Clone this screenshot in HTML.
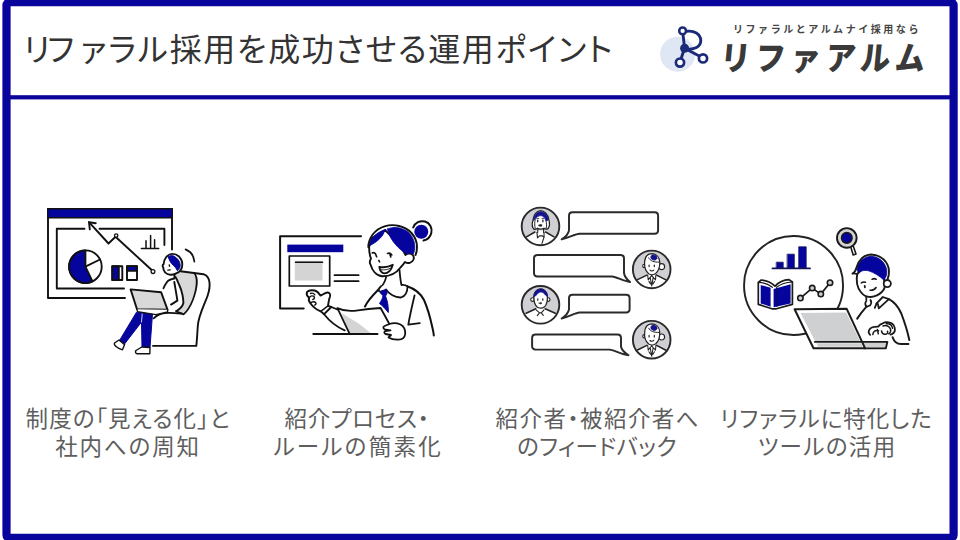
<!DOCTYPE html>
<html lang="ja">
<head>
<meta charset="utf-8">
<title>リファラル採用を成功させる運用ポイント</title>
<style>
html,body{margin:0;padding:0;}
body{width:960px;height:540px;position:relative;overflow:hidden;background:#fff;
 font-family:"Liberation Sans","Noto Sans CJK JP",sans-serif;}
#frame{position:absolute;left:0;top:0;width:960px;height:540px;}
.title{position:absolute;left:23.5px;top:30px;font-size:32px;line-height:40px;color:#333;white-space:nowrap;
 font-feature-settings:"palt";letter-spacing:1.62px;}
.cap{position:absolute;font-size:22.5px;line-height:40px;color:#5e5e5e;
 white-space:nowrap;font-feature-settings:"palt";}
.l1{top:399.6px}.l2{top:428px}
.logo-sub{position:absolute;left:733px;top:23.3px;font-size:10px;font-weight:700;letter-spacing:2.55px;color:#444;white-space:nowrap;line-height:14px;}
.logo-main{position:absolute;left:718.3px;top:35.9px;font-size:33px;font-weight:900;letter-spacing:5.6px;color:#3a3a3a;white-space:nowrap;line-height:46px;transform-origin:0 100%;transform:scaleX(0.91) skewX(-6deg);}
svg{position:absolute;overflow:visible;}
</style>
</head>
<body>
<svg id="frame" viewBox="0 0 960 540" width="960" height="540">
 <rect x="6.5" y="2.2" width="947.1" height="535.7" rx="3" ry="3" fill="none" stroke="#08049c" stroke-width="8.2"/>
 <rect x="6.5" y="95.2" width="947" height="4.2" fill="#08049c"/>
</svg>
<div class="title"><span style="letter-spacing:-2.4px">リ</span><span style="letter-spacing:6.4px">フ</span><span style="letter-spacing:1.9px">ァラル</span>採用を成功させる運用<span style="letter-spacing:1.6px">ポイント</span></div>

<!-- logo -->
<svg id="logo" viewBox="0 0 60 60" width="60" height="60" style="left:655px;top:20px">
 <circle cx="22.6" cy="34.2" r="17.5" fill="#dfe7f4"/>
 <g fill="none" stroke="#1b2a78" stroke-width="2.9" stroke-linecap="round">
  <path d="M27.6 11 L29.6 28 L25 42"/>
  <path d="M31.5 11.3 C39 10.3 45.6 13.5 45.8 20.5 C45.8 27 39 30 31.5 29"/>
  <path d="M30 28.5 L48 38"/>
 </g>
 <circle cx="27.6" cy="10.9" r="3.4" fill="#fff" stroke="#1b2a78" stroke-width="2.5"/>
 <circle cx="25" cy="42.6" r="4.1" fill="#fff" stroke="#1b2a78" stroke-width="2.7"/>
 <circle cx="48" cy="38.4" r="4.1" fill="#fff" stroke="#1b2a78" stroke-width="2.7"/>
 <circle cx="29.6" cy="28.2" r="4.5" fill="#1b2a78"/>
</svg>
<div class="logo-sub">リファラルとアルムナイ採用なら</div>
<div class="logo-main">リファアルム</div>

<div class="cap l1" style="left:25.6px;letter-spacing:1.1px">制度の「見える化」と</div>
<div class="cap l2" style="left:55.2px;letter-spacing:1.88px">社内への周知</div>
<div class="cap l1" style="left:284.5px;letter-spacing:0.65px">紹介プロセス・</div>
<div class="cap l2" style="left:273.7px;letter-spacing:2.25px">ルールの簡素化</div>
<div class="cap l1" style="left:495.5px;letter-spacing:1.44px">紹介者・被紹介者へ</div>
<div class="cap l2" style="left:517px;letter-spacing:0.43px">のフィードバック</div>
<div class="cap l1" style="left:720px;letter-spacing:0.93px">リファラルに特化した</div>
<div class="cap l2" style="left:757.7px;letter-spacing:1.38px">ツールの活用</div>

<svg id="ill1" viewBox="0 0 960 540" width="960" height="540" style="left:0;top:0">
<g fill="none" stroke="#111" stroke-width="1.9" stroke-linecap="round" stroke-linejoin="round">
 <!-- window -->
 <path d="M125 298 H48 V209 M172 209 V249.5"/>
 <rect x="47.7" y="208.7" width="124.6" height="9.1" fill="#05059e" stroke-width="1.4"/>
 <path d="M84.5 228.7 H56.8 V288.5 H124"/>
 <path d="M99.5 228.7 H164.4 V245"/>
 <!-- pie -->
 <circle cx="85.4" cy="266.7" r="16.3" fill="#fff"/>
 <path d="M85.4 266.7 L85.4 250.4 A16.3 16.3 0 1 0 92.5 281.4 Z" fill="#05059e"/>
 <path d="M85.4 266.7 L100 259.5"/>
 <!-- bars -->
 <rect x="112.3" y="266.3" width="10" height="13.7" fill="#fff"/>
 <rect x="112.3" y="266.3" width="6.5" height="13.7" fill="#05059e"/>
 <rect x="127" y="266.3" width="10" height="13.7" fill="#fff"/>
 <rect x="127" y="266.3" width="10" height="4.6" fill="#05059e"/>
 <!-- arrow -->
 <path d="M89 222.2 L108.5 243.5 L115.5 236.8 L152 270.3"/>
 <path d="M95.8 223.2 L89 222.2 L89.8 229.4"/>
 <circle cx="116.2" cy="235.5" r="1.7" fill="#fff" stroke-width="1.3"/>
 <circle cx="153" cy="271.6" r="1.9" fill="#fff" stroke-width="1.3"/>
 <!-- small bar chart -->
 <path d="M141.4 248.5 H158.7 M146 248 V240.7 M150.6 248 V235.6 M154.6 248 V239.7" stroke-width="1.5"/>
 <!-- chair -->
 <path d="M178.5 271 L194.2 273 C197.8 277 197.5 287 193 299.5 C190.5 306 187.5 311 183.6 314.4 L176 311.2 C180 308.5 183 306 183.4 303 C183.3 300 183 297.5 182.5 295 C181.7 291 180.7 288 179.2 285 C178 282 176.5 279 175 276.7 Z" fill="#d9d9d9" stroke="none"/>
 <path d="M194.2 273 C197.8 277 197.5 287 193 299.5 C190.5 306 187.5 311 183.6 314.4 L176 311.2" stroke-width="1.7"/>
 <path d="M180.5 271.2 L203.5 274.2 C210.5 276.5 211 286 207.5 296 C203 308 198.5 316 197.8 326 C197.3 333 197 340 196.3 345.9 H153"/>
 <path d="M153.7 318.3 C157 315 160 313.3 165 313 C171 312.5 176 313 181.5 313.5"/>
 <!-- head -->
 <path d="M163.2 267.3 C162.3 266.3 162.5 264.8 163.6 264.2 C164 259 167 254.3 172 253.9 C177.5 253.8 182 258 182.3 264 C182.4 268.5 180 272 176.2 273.4 C172.5 275.5 167.5 275.3 165.2 272.5 C163.8 271 163.2 269 163.2 267.3 Z" fill="#fff"/>
 <path d="M168.3 256.9 C170 255.3 172.5 255.2 174.5 256.5 C177.5 258.3 179.8 261.3 180.2 264.8 C180.3 267.2 179.3 269.3 177.4 270.8 C176.5 268.5 175 266.7 173.3 265.3 C171 263.3 169.2 260.5 168.3 256.9 Z" fill="#05059e" stroke="#05059e" stroke-width="1"/>
 <path d="M185.6 249.4 C190.5 251.5 194 256 194.4 261.7" stroke-width="1.7"/>
 <path d="M169.3 265 L169.5 266.2" stroke-width="1.4"/><path d="M167.8 270.2 L170.3 269.8" stroke-width="1.2"/>
 <!-- body -->
 <path d="M174.6 274 L174.3 278.5 C170.5 279.3 168.3 280.3 167.2 281.8 C165.6 284 164.3 286 163.5 288.3" />
 <path d="M175.5 277 C177 279.5 178.2 282.5 179.2 285 C180.7 288 181.7 291 182.5 295 C183 297.5 183.3 300 183.4 303 C182.5 306.5 180 309 176.5 311"/>
 <path d="M174.3 282 C175.3 288 176.5 294.5 177.4 300.6 L171 304.6"/>
 <!-- legs -->
 <path d="M142.6 312.5 L136.5 312.2 L119.5 340.5 L124.3 344.3 L141.5 322 L142 347 L150 347.5 L152.5 314 Z" fill="#05059e" stroke="#05059e" stroke-width="1"/>
 <path d="M141.5 322 L142.2 314" stroke="#fff" stroke-width="0.8"/>
 <path d="M119 340 L114.5 343 C113.5 345 117 348 122.5 349.8 L124.6 344.6 Z" fill="#fff" stroke-width="1.4"/>
 <path d="M141.8 347 L136 350.5 C135 352 135.5 353.5 137 353.7 L149.8 353.7 L150 347.5 Z" fill="#fff" stroke-width="1.4"/>
 <!-- laptop -->
 <path d="M130.6 289.4 L161.1 292.2 L167.6 309.8 L137 309.3 Z" fill="#d9d9d9"/>
 <path d="M137 309.3 L137.6 311.6 L156 314.6 L167.6 311.8 L167.6 309.8" fill="#fff" stroke-width="1.3"/>
</g>
</svg>

<svg id="ill2" viewBox="0 0 960 540" width="960" height="540" style="left:0;top:0">
<g fill="none" stroke="#111" stroke-width="2.0" stroke-linecap="round" stroke-linejoin="round">
 <!-- board -->
 <path d="M361 236.2 H280.1 V308.4 H303.7"/>
 <rect x="287.3" y="244.6" width="56" height="7.6" fill="#05059e" stroke="none"/>
 <rect x="289.3" y="256" width="40.4" height="30" fill="#fff" stroke-width="1.7"/>
 <rect x="294.8" y="260.7" width="27.7" height="19.8" fill="#d4d4d4" stroke="none"/>
 <path d="M295.5 262.3 H322.5" stroke-width="1.6"/>
 <path d="M334.5 275.2 H358.6 M334.5 281.2 H358.6" stroke-width="1.8"/>
 <!-- pointing hand + sleeve -->
 <path d="M306.9 292.3 C308 290.5 311 289.8 314.7 290.5 C316.5 291 318.8 293 320.4 295.6 C323 294.5 325.5 292.3 327.6 292.5 C329.8 292.8 330.6 294.5 330 296.5 C329.5 298 329 299.5 328.8 300.9 L328 305.9 L331.3 307 L324.1 314.2 L320.8 311.4 C316 309.5 312.4 306 310.5 303.5 C308.8 301.5 308.3 299.5 309.2 297.8 C307.5 296.5 306.3 294 306.9 292.3 Z" fill="#fff" stroke-width="1.9"/>
 <path d="M309.2 297.8 C310.5 295.5 313 295.3 314.3 297 C314.8 298.2 314 299.3 312.8 299.5 M310.8 303 C312 301.3 314.5 301.3 315.8 302.8 C316.3 303.8 315.8 304.8 314.8 305 M310.5 293.5 C312 292.8 313.8 293.3 314.8 294.8 M328 305.9 L320.8 311.4" stroke-width="1.4"/>
 <path d="M324.1 314.2 C329 320.5 337 327 344.7 330.3 M331.3 307 L337.5 309.5" stroke-width="1.8"/>
 <!-- body -->
 <path d="M378.5 289.5 C372 296 367.5 301 365 306.5"/>
 <path d="M406.5 286 C414 288.5 420.5 293 424 300 C428 309 431 321 432.5 328 C433.2 331 433.7 333.5 433.8 335.5"/>
 <path d="M414.6 295.3 C412.5 304 410 315 408.3 324.7 L414 323.9 L419.8 323.2" stroke-width="1.8"/>
 <!-- neck -->
 <path d="M386.5 274.5 C386 279 384.5 283 381.5 286.5 M399.5 270 C400 276 400.5 281 401.5 285" stroke-width="1.8"/>
 <!-- collar -->
 <path d="M381 286.3 C379.5 287.5 378.7 289 378.5 290.5 L384 294.5 C384.5 292 385 290.5 386 289.5 C389 294 395 297.8 401 297.5 C405 296.5 407.5 292 407.5 286.5 C406 285.3 403.5 284.8 401.5 285" fill="#fff" stroke-width="1.8"/>
 <!-- tie -->
 <path d="M381.5 290.8 L386 289.5 L387 293.5 L385.5 296 C387.5 301 388.5 306 388.3 312.5 C385.5 309 382.5 305.5 379.5 303.5 C381.5 300.5 382.8 298 383 295.5 L380.8 293.5 Z" fill="#05059e" stroke="#05059e" stroke-width="1.0"/>
 <!-- paper -->
 <path d="M337.4 308.1 C343 310.8 350 311.6 358 310.3 C366 309.2 374 308.5 380.6 308 L390.9 326.7 L384 333.6 L349.6 333.6 Z" fill="#fff" stroke="none"/>
 <path d="M341.3 313 L358 323 L371 333.2 L350 333.2 Z" fill="#d4d4d4" stroke="none"/>
 <path d="M349.4 333.4 L337.4 308.1 C343 310.8 350 311.6 358 310.3 C366 309.2 374 308.5 380.6 308 L390.9 326.7" stroke-width="1.8"/>
 <!-- desk -->
 <path d="M313.3 333.9 H377.5"/>
 <!-- right hand -->
 <path d="M389.5 324 C393 322.8 397 323 400.5 324.5 C404 326.5 405.5 330 405.2 334 C404.8 337.5 402 339.5 398.5 339.6 C394.5 339.8 391 339 388.5 337.5 L391 335 L385.5 334 C384 333.3 384 331.8 385.3 331 L390.5 330.3 L384.5 329.3 C383 328.5 383 326.5 384.5 326 Z" fill="#fff" stroke-width="1.8"/>
 <!-- head -->
 <path d="M369.2 246.5 C369 251 369.5 255 371 258.5 C369.5 261 369.5 263 370.5 264.5 C372 270 376 275.5 381.9 276.3 C389 276.5 396 273.5 400.5 267.5 C402.5 265.5 404 263.5 405 262 C408 264 412 263 413.5 259.5 C414.5 256 412.5 253.5 409 253.5 C407.5 253.5 406 254 405.5 255 L400 245 L385 230 L372 238 Z" fill="#fff" stroke-width="1.9"/>
 <!-- bun -->
 <circle cx="421.3" cy="231.8" r="7" fill="#05059e" stroke="none"/>
 <path d="M413.2 227.5 C415 222.5 420 220.3 425 221.5 C430 223 432.5 228 431.3 233 C430.3 237 427.5 239.8 423.5 240.5" stroke-width="2.0"/>
 <!-- hair -->
 <path d="M385.5 229.5 C380 231 374.5 234.5 371.5 239.5 C370.5 241.5 370 243.5 369.8 245.5 C374.5 243.5 379 240 382.5 235.5 C383.5 233.5 384.5 231.5 385.5 229.5 Z" fill="#05059e" stroke="#05059e" stroke-width="0.8"/>
 <path d="M387.5 229 C393 226.5 400 227 406 230.5 C411.5 234 414.5 240 414.8 246.5 C414.8 249.5 414.3 252 413.2 254 C411.5 253 409 253 407 254 C400.5 250.5 394.5 244.5 390.5 237.5 C389 234.5 388 231.8 387.5 229 Z" fill="#05059e" stroke="#05059e" stroke-width="0.8"/>
 <path d="M368.3 247 C368.5 238 374.5 229.5 384.5 226.3 C394 223.5 405 226 411.5 233 C415 237 417 242 417 247 C417 250.5 416.5 253 415.5 255" stroke-width="1.9"/>
 <!-- face -->
 <path d="M372.3 253 C373.5 252.3 374.8 252.8 375.6 254 M375.6 254 L376.6 256.8 M387.5 253.5 C389 252.8 390.8 253.5 391.8 255 M389.6 253.6 L390.8 257" stroke-width="1.6"/>
 <path d="M378.8 260.5 L379.6 261.8" stroke-width="1.6"/>
 <path d="M379.3 266.8 C383.5 267.8 388.5 267 392.8 264.8 C391.5 270 388 273.3 384.5 273.3 C381.5 273 379.8 270.5 379.3 266.8 Z" fill="#fff" stroke-width="1.8"/>
 <path d="M381.5 269.8 C384.5 270.3 388 269.6 390.8 268" stroke-width="0.9"/>
</g>
</svg>

<svg id="ill3" viewBox="0 0 960 540" width="960" height="540" style="left:0;top:0">
<defs>
 <clipPath id="avclip"><circle cx="0" cy="0" r="18.8"/></clipPath>
 <g id="avA" fill="none" stroke="#222" stroke-width="1.3" stroke-linecap="round" stroke-linejoin="round">
  <circle cx="0" cy="0" r="18.8" fill="#cfcfd4" stroke="none"/>
  <g clip-path="url(#avclip)">
   <path d="M-14 10.5 L-5.6 5.6 L-3.5 4 L3.5 4 L5.1 5.6 L13.5 10.5 L20 22 L-20 22 Z" fill="#fff" stroke="none"/>
   <path d="M-14 10.4 L-5.6 5.6 M13.5 10.4 L5.1 5.6" stroke-width="1.5"/>
   <path d="M-3.6 6 L-3 11.5 L-1 9.5 L2 9.5 L3.5 11 L1.5 17 M3.5 6 L3.6 10.8" stroke-width="1.1"/>
  </g>
  <!-- hair bob -->
  <path d="M-2.6 1.5 L-2.8 6 M3 1.5 L3.2 6" stroke-width="1.1"/>
  <path d="M-7.6 -6 C-8.8 -2 -8.6 1 -6.5 2.8 C-4.8 3.2 -3.6 2.6 -3 1.8 C-1.5 3 2 3 3.5 1.8 C4.5 2.8 6 3 7.5 2.2 C9.3 0 9.3 -3.5 8.3 -7 C7.3 -12.5 3.5 -15.8 0 -15.8 C-4.3 -15.5 -7 -11 -7.6 -6 Z" fill="#fff" stroke-width="1.25"/>
  <path d="M-6.8 -6.3 C-6.3 -11.5 -3.3 -14.7 0.3 -14.7 C4.3 -14.4 7.3 -11 7.8 -6.5 L5.5 -5.5 C4.8 -8.3 3 -10.3 0.8 -10.8 C-2 -11 -4.5 -9.2 -6.8 -6.3 Z" fill="#14148c" stroke="#14148c" stroke-width="0.9"/>
  <path d="M5.5 -5.5 C6.3 -3 6.3 0 5.6 2 M-5.3 -7.3 C-6 -4 -6 -1 -5.3 2" stroke-width="1"/>
  <path d="M-2.8 -6.3 L-2.8 -4.6 M2.4 -6.3 L2.4 -4.6" stroke-width="1.3"/>
  <path d="M-3.8 -7.8 L-1.8 -8 M1.5 -8 L3.5 -7.8" stroke-width="0.8"/>
  <path d="M-1.7 -1 C-0.9 -2.2 0.9 -2.2 1.7 -1 C0.9 0.2 -0.9 0.2 -1.7 -1 Z" fill="#222" stroke-width="0.8"/>
  <circle cx="0" cy="0" r="18.8" stroke="#2a2a2a" stroke-width="1.9"/>
 </g>
 <g id="avB" fill="none" stroke="#222" stroke-width="1.3" stroke-linecap="round" stroke-linejoin="round">
  <circle cx="0" cy="0" r="18.8" fill="#cfcfd4" stroke="none"/>
  <g clip-path="url(#avclip)">
   <path d="M-14.2 10.3 L-4.8 5.7 L-3 4 L3.5 4 L4.9 5.7 L14.7 10.8 L20 22 L-20 22 Z" fill="#fff" stroke="none"/>
   <path d="M-14.2 10.3 L-4.8 5.7 M14.7 10.8 L4.9 5.7" stroke-width="1.5"/>
   <path d="M-4 5.5 L-3.5 10.5 L-1.5 8 L0 16.5 L1.5 8 L3.8 10.5 L4.2 5.5 M-1.5 8 L0 6 L1.5 8 M-2.8 12 L-1.2 14.5 M2.8 12 L1.2 14.5" stroke-width="1.05"/>
  </g>
  <!-- ear/bun -->
  <circle cx="9.9" cy="-2.7" r="3" fill="#fff" stroke-width="1.2"/>
  <circle cx="-7.3" cy="-3.4" r="1.7" fill="#fff" stroke-width="1.1"/>
  <!-- head -->
  <path d="M-7 -8 C-7.5 -3 -6 2 -3 4.3 C-1 5.6 2 5.4 4 4 C7 1.5 8.3 -3 8 -8 C7.5 -13 4 -15.8 0 -15.8 C-4 -15.6 -6.6 -12.5 -7 -8 Z" fill="#fff" stroke-width="1.2"/>
  <ellipse cx="2.2" cy="-11.9" rx="3.1" ry="2.5" fill="#14148c" stroke="#14148c" stroke-width="0.8" transform="rotate(20 2.2 -11.9)"/>
  <path d="M-3 -11.5 C-1.5 -8.5 2 -7 7.8 -7.3" stroke-width="1"/>
  <path d="M-2.6 -4.3 L-2.6 -2.8 M2.6 -4.3 L2.6 -2.8" stroke-width="1.2"/>
  <path d="M-1.7 0.8 C-0.6 1.9 1.2 1.9 2.1 0.6" stroke-width="1.1"/>
  <circle cx="0" cy="0" r="18.8" stroke="#2a2a2a" stroke-width="1.9"/>
 </g>
 <g id="avC" fill="none" stroke="#222" stroke-width="1.3" stroke-linecap="round" stroke-linejoin="round">
  <circle cx="0" cy="0" r="18.8" fill="#cfcfd4" stroke="none"/>
  <g clip-path="url(#avclip)">
   <path d="M-14.4 8.5 L-4.7 3.9 L-3 2.5 L3.5 2.5 L4.6 3.9 L14.8 8.5 L20 22 L-20 22 Z" fill="#fff" stroke="none"/>
   <path d="M-14.4 8.5 L-4.7 3.9 M14.8 8.5 L4.6 3.9" stroke-width="1.5"/>
   <path d="M-4.3 5 L-1 8 L-3.2 10.8 M3.5 5 L0.8 8 L2.8 10.5 M-1 8 L0.8 8" stroke-width="1.1"/>
  </g>
  <!-- ears -->
  <circle cx="-8" cy="-5.2" r="1.8" fill="#fff" stroke-width="1.1"/>
  <circle cx="7.7" cy="-5.2" r="1.8" fill="#fff" stroke-width="1.1"/>
  <path d="M-6.5 -9 C-7 -4 -5.5 0.5 -3 2.4 C-1 3.5 2 3.5 3.8 2.3 C6 0.3 7.2 -4 6.8 -9 C6.3 -13.5 3 -16 0 -16 C-3.5 -15.8 -6.2 -13 -6.5 -9 Z" fill="#fff" stroke-width="1.2"/>
  <path d="M-6.7 -8.2 C-6.5 -13 -3.5 -15.8 0.3 -15.8 C4 -15.6 6.8 -12.8 7 -8.3 C5.5 -9 4.3 -10.3 3.3 -11.8 C1.5 -13.3 -1 -13.3 -2.5 -11.5 C-3.5 -10 -5 -8.8 -6.7 -8.2 Z" fill="#14148c" stroke="#14148c" stroke-width="0.9"/>
  <path d="M-3.2 -9.5 C-1.8 -11.5 1.5 -11.7 3.2 -9.8" stroke="#fff" stroke-width="0.8"/>
  <path d="M-2.7 -6 L-2.7 -4.6 M2.3 -6 L2.3 -4.6" stroke-width="1.2"/>
  <path d="M-1.2 -1.6 C-0.6 -2.6 0.8 -2.6 1.4 -1.6 C0.8 -0.7 -0.6 -0.7 -1.2 -1.6 Z" fill="#222" stroke-width="0.7"/>
  <circle cx="0" cy="0" r="18.8" stroke="#2a2a2a" stroke-width="1.9"/>
 </g>
</defs>
<use href="#avA" x="540.5" y="226.4"/>
<use href="#avB" x="651.7" y="269.4"/>
<use href="#avC" x="540.5" y="304.8"/>
<use href="#avB" x="651.7" y="339.7"/>
<g fill="#fff" stroke="#2a2a2a" stroke-width="1.95" stroke-linejoin="round" stroke-linecap="round">
 <path d="M572.5 212.2 H654.6 Q658.1 212.2 658.1 215.7 V230.2 Q658.1 233.7 654.6 233.7 H579.5 C575 234 570 237.5 561.6 239.4 C565.5 237 568.3 234 569 230.5 V215.7 Q569 212.2 572.5 212.2 Z"/>
 <path d="M537.5 254.9 H620.5 Q624 254.9 624 258.4 V273 C624.5 276.5 627 279.5 630 282.1 C623 281 617 277 612 276.5 H537.5 Q534 276.5 534 273 V258.4 Q534 254.9 537.5 254.9 Z"/>
 <path d="M572.5 294.7 H626.1 Q629.6 294.7 629.6 298.2 V309 Q629.6 312.5 626.1 312.5 H579.5 C575 312.8 570 316.5 561.6 318.5 C565.5 316 568.3 313 569 309.5 V298.2 Q569 294.7 572.5 294.7 Z"/>
 <path d="M535.6 334.4 H617.5 Q621 334.4 621 337.9 V346.5 C621.5 350 625 353 628.5 355.3 C621.5 354.5 615 350.3 609.5 349.6 H535.6 Q532.1 349.6 532.1 346.1 V337.9 Q532.1 334.4 535.6 334.4 Z"/>
</g>
</svg>

<svg id="ill4" viewBox="0 0 960 540" width="960" height="540" style="left:0;top:0">
<g fill="none" stroke="#1a1a1a" stroke-width="2.0" stroke-linecap="round" stroke-linejoin="round">
 <!-- big circle -->
 <circle cx="793.55" cy="285.5" r="49.5" fill="#fff" stroke="#222" stroke-width="1.9"/>
 <!-- bar chart -->
 <g fill="#05059e" stroke="#14145a" stroke-width="0.8">
  <rect x="776.6" y="262.2" width="6.6" height="5.8"/>
  <rect x="787.5" y="254.2" width="6.8" height="13.8"/>
  <rect x="799" y="246.8" width="7.2" height="21.2"/>
 </g>
 <path d="M772.5 268.4 H810" stroke="#14145a" stroke-width="1.8"/>
 <!-- book -->
 <path d="M758.3 282.3 L761.3 280 C766 280.3 771.5 282.5 775 286.2 C778.5 282.3 784 279.8 789 279.6 L792.4 282 L792.4 304.4 L776.4 308.8 L772 308.8 L758.3 304.4 Z" fill="#fff" stroke-width="1.7"/>
 <path d="M758.3 282.3 C763.5 282.6 769 284.5 772.3 287.3 M792.4 282 C787 282.3 780.5 284.3 776.5 287.3" stroke-width="1.2"/>
 <path d="M760.7 285 L770.6 287.8 L770.6 306.7 L760.7 303.4 Z" fill="#05059e" stroke="none"/>
 <path d="M773.6 288.9 L790.6 284.3 L790.6 303.4 L773.6 307.2 Z" fill="#05059e" stroke="none"/>
 <path d="M776.8 288.5 V306.5" stroke="#0a0a50" stroke-width="1"/>
 <!-- line chart -->
 <path d="M800.4 298.1 L812.2 288.1 L820.8 294.1 L830 282.7" stroke-width="1.7"/>
 <g fill="#cfcfcf" stroke-width="1.6">
  <circle cx="800.4" cy="298.1" r="2.7"/><circle cx="812.2" cy="288.1" r="2.7"/><circle cx="820.8" cy="294.1" r="2.7"/><circle cx="830" cy="282.7" r="2.7"/>
 </g>
 <!-- magnifier -->
 <path d="M850.3 245.5 L853.2 255 L856 254 L852.8 244.8 Z" fill="#fff" stroke-width="1.6"/>
 <circle cx="846.8" cy="237.9" r="9.8" fill="#d4d4d4" stroke-width="1.9"/>
 <circle cx="846.8" cy="237.9" r="5.3" fill="#05059e" stroke-width="1.5"/>
 <!-- person body -->
 <path d="M866.3 306.8 C862.5 311 859.5 315 857.2 318.6"/>
 <path d="M888.9 299.1 C894.5 302 898.5 307 901.3 313.5 C904.5 322 907.5 331 909.3 340"/>
 <path d="M892.6 337.2 C894 341.5 897 343.8 901 344 L908.4 343.9"/>
 <!-- neck + collar -->
 <path d="M865.5 294.8 C866.5 297.5 866.8 299.5 866.3 301 C865 302.5 865 304.5 866.3 306.8 L870 305.5 C871.5 303.5 871.5 301.5 870.5 300" stroke-width="1.8"/>
 <path d="M876.6 303.3 L882.8 297 L888.9 299.2 L878.8 308.3 L877.8 303.8" stroke-width="1.8"/>
 <path d="M874.8 307.8 L876.6 303.3" stroke-width="1.8"/>
 <!-- head -->
 <path d="M857.2 274 C856 281 857.5 288 860.8 292 C863.5 295.5 867 297.3 870.8 297 C875 296.5 879 294.8 881.8 292 C883.5 290.5 884.3 289 884.6 287.5 L884 278 L870 262 Z" fill="#fff" stroke-width="1.9"/>
 <circle cx="887.3" cy="283.6" r="3.6" fill="#fff" stroke-width="1.8"/>
 <path d="M858.3 272.3 C861.5 270.5 865 270 868.5 270.8 C874 272.5 879.5 276 883.8 280 C886 277.5 887 274.5 886.8 271 C886 263 879.5 256.6 871 256.3 C864.5 256.5 859.5 261 857.2 267.5 C856.8 269.3 857.3 271 858.3 272.3 Z" fill="#05059e" stroke="#05059e" stroke-width="0.8"/>
 <path d="M852.6 273.5 C854.5 272.5 855.8 270.5 856.3 268 C858.5 260 864 254.6 871 254.5 C881 254.8 888.8 262 889 271.5 C889 274.5 888.5 277 887.6 279.2" stroke-width="1.9"/>
 <path d="M852.6 273.5 L857.5 273.8" stroke-width="1.7"/>
 <!-- face -->
 <path d="M861.3 283 C862.5 282 864.2 281.8 865.5 282.3 M872 279.3 C873.3 278.5 875 278.5 876.2 279.3" stroke-width="1.5"/>
 <path d="M864.7 285.8 L864.9 287.3" stroke-width="1.8"/>
 <path d="M870 290.2 C872.5 290.5 874.8 289.5 876 287.5" stroke-width="1.6"/>
 <!-- hand -->
 <path d="M870.2 334.9 C868.6 333.5 868.5 331 869.6 329.3 C871 327.3 874 326.5 878.2 326.6 C879.5 324.8 881 323.8 882.8 323.3 C884.5 322.3 886.5 322 888.5 322.3 C891.5 322.8 893.5 324.3 894.3 326.5 C895.3 329 895 331.5 893.5 333 C892.5 334 891.5 334.5 890.5 334.5" fill="#fff" stroke-width="1.8"/>
 <path d="M872.8 334.6 C873 331.5 875.5 329.8 878.5 330.8 M877.3 329.5 L878.3 333.8 M881.5 331 C882 333.5 884 334.8 886 334.2 C887.5 333.8 888 332.5 887.5 331.2 M883 326 C886 324.8 889.5 326 890.5 329 C891 331 890.3 332.8 888.8 333.8 M886.3 323.8 C889.5 323.5 892 325.5 892.6 328.3" stroke-width="1.5"/>
 <!-- laptop -->
 <path d="M860 341.8 L887.4 341.8 L885.9 348.3 L864 348.3 Z" fill="#cfd0d1" stroke-width="1.8"/>
 <path d="M794.6 309.2 L846.7 308.8 L865.1 348.3 L813.5 348.3 Z" fill="#fff" stroke-width="2"/>
 <path d="M800.6 313 L846.2 312.6 L860 341 L815 341 Z" fill="#cfd0d1" stroke="none"/>
 <path d="M816.5 343.3 L861.3 343.3 L863 346.8 L818 346.8 Z" fill="#cfd0d1" stroke="none"/>
 <path d="M814.8 341.9 L861.6 341.9" stroke-width="1.7"/>
</g>
</svg>

</body>
</html>
